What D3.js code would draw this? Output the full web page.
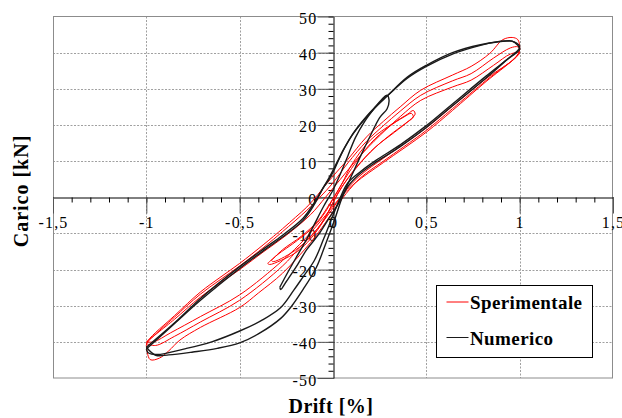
<!DOCTYPE html>
<html><head><meta charset="utf-8">
<script src="https://cdn.jsdelivr.net/npm/d3@7"></script>
<style>html,body{margin:0;padding:0;background:#fff;} svg{display:block;}</style>
</head><body><svg id="c" width="622" height="418"></svg>
<script>
// ---- tick labels / categories ----
const xTicks = [-1.5, -1, -0.5, 0, 0.5, 1, 1.5];
const yTicks = [-50, -40, -30, -20, -10, 0, 10, 20, 30, 40, 50];
const xTitle = "Drift [%]";
const yTitle = "Carico [kN]";
const seriesNames = ["Sperimentale", "Numerico"];

// ---- Sperimentale (experimental) cycles: [drift %, load kN] ----
const expLoopA = [
  [-1.00,-41.0],[-0.99,-39.6],[-0.85,-32.8],[-0.71,-26.2],[-0.60,-22.0],[-0.50,-18.3],[-0.37,-13.0],[-0.27,-8.7],
  [-0.20,-5.5],[-0.14,-2.7],[-0.08,0.8],[-0.03,4.0],[0.02,7.0],[0.08,10.5],[0.18,16.7],[0.27,21.0],[0.36,25.0],
  [0.47,29.6],[0.64,33.8],[0.74,36.2],[0.84,39.8],[0.91,43.6],[0.96,44.2],[0.99,43.6],[1.00,41.5],
  [0.99,39.3],[0.90,35.5],[0.82,32.3],[0.64,24.5],[0.50,18.5],[0.38,14.0],[0.27,10.0],[0.15,5.5],[0.07,1.0],
  [0.02,-2.5],[-0.04,-7.0],[-0.12,-12.5],[-0.27,-21.0],[-0.40,-26.5],[-0.50,-30.5],[-0.71,-36.0],[-0.82,-39.5],
  [-0.88,-42.5],[-0.93,-44.5],[-0.98,-44.9],[-1.00,-41.0]
];
const expLoopB = [
  [-1.00,-40.5],[-0.97,-38.8],[-0.85,-33.2],[-0.71,-26.8],[-0.50,-19.0],[-0.37,-13.8],[-0.27,-9.5],[-0.14,-3.6],
  [-0.07,0.0],[0.00,4.0],[0.08,9.5],[0.18,15.5],[0.27,19.8],[0.36,23.8],[0.47,28.2],[0.64,32.2],[0.74,34.2],
  [0.86,38.5],[0.95,41.3],[0.99,41.6],[1.00,40.8],
  [0.97,38.3],[0.82,32.8],[0.64,25.2],[0.50,19.2],[0.27,10.8],[0.15,6.2],[0.07,2.0],[0.00,-3.0],[-0.08,-8.5],
  [-0.18,-14.0],[-0.27,-19.0],[-0.50,-28.5],[-0.71,-34.5],[-0.85,-38.5],[-0.95,-41.0],[-1.00,-40.5]
];
const expLoopC = [
  [-1.00,-40.0],[-0.85,-33.8],[-0.71,-27.6],[-0.50,-20.0],[-0.37,-15.0],[-0.25,-10.5],[-0.12,-4.8],[-0.04,0.0],
  [0.04,5.0],[0.12,10.0],[0.22,15.5],[0.36,22.3],[0.47,26.8],[0.64,30.5],[0.74,32.4],[0.86,36.5],[0.95,39.6],[1.00,40.0],
  [0.96,37.8],[0.82,32.0],[0.64,24.0],[0.50,18.0],[0.27,9.6],[0.12,4.0],[0.04,0.0],[-0.04,-5.0],[-0.15,-11.5],
  [-0.27,-17.5],[-0.50,-27.0],[-0.71,-33.0],[-0.87,-37.5],[-0.96,-40.0],[-1.00,-40.0]
];
const expSmallA = [
  [-0.35,-18.3],[-0.30,-16.0],[-0.19,-11.9],[-0.10,-8.0],[-0.04,-4.0],[0.00,-0.5],[0.05,4.0],[0.10,9.0],[0.20,15.8],
  [0.32,20.4],[0.40,23.0],[0.43,24.0],[0.44,23.0],
  [0.41,21.3],[0.33,18.0],[0.23,14.0],[0.12,8.0],[0.05,3.0],[0.00,-1.5],[-0.05,-6.5],[-0.12,-11.5],[-0.19,-15.0],
  [-0.28,-17.5],[-0.34,-18.6],[-0.35,-18.3]
];
const expSmallB = [
  [-0.33,-17.5],[-0.27,-14.5],[-0.17,-10.8],[-0.08,-6.5],[-0.02,-2.0],[0.04,3.0],[0.10,8.0],[0.20,14.8],[0.30,19.5],
  [0.38,22.2],[0.42,23.2],[0.43,22.2],
  [0.39,20.5],[0.30,17.0],[0.20,12.5],[0.10,6.5],[0.03,1.5],[-0.03,-4.5],[-0.10,-9.8],[-0.18,-13.8],[-0.26,-16.5],
  [-0.32,-17.8],[-0.33,-17.5]
];

// ---- Numerico (numerical) cycles: [drift %, load kN] ----
const numLoopA = [
  [-1.00,-42.0],[-0.85,-35.0],[-0.71,-28.5],[-0.50,-19.7],[-0.37,-14.7],[-0.27,-11.0],[-0.16,-6.4],[-0.10,-2.0],
  [-0.05,2.8],[-0.02,5.0],[0.01,8.0],[0.05,12.5],[0.10,17.0],[0.16,21.0],[0.22,24.5],[0.29,28.0],[0.40,33.3],
  [0.50,36.5],[0.64,40.0],[0.79,42.2],[0.89,43.0],[0.96,43.2],[0.99,42.0],[1.00,41.0],
  [0.92,37.6],[0.82,33.5],[0.64,25.8],[0.50,19.8],[0.36,14.5],[0.23,10.2],[0.15,7.2],[0.08,4.0],[0.04,0.0],
  [0.00,-5.0],[-0.05,-11.5],[-0.10,-17.5],[-0.16,-22.0],[-0.21,-25.7],[-0.28,-30.5],[-0.38,-34.0],[-0.50,-37.0],
  [-0.65,-40.0],[-0.80,-42.0],[-0.94,-43.5],[-0.99,-43.0],[-1.00,-42.0]
];
const numLoopB = [
  [-1.00,-41.5],[-0.85,-34.8],[-0.71,-28.0],[-0.50,-19.2],[-0.37,-14.2],[-0.27,-10.5],[-0.16,-5.8],[-0.10,-1.5],
  [-0.06,2.0],[-0.02,5.5],[0.02,9.5],[0.06,13.5],[0.11,17.8],[0.17,21.8],[0.23,25.2],[0.30,28.5],[0.40,33.0],
  [0.50,36.2],[0.64,39.6],[0.79,42.0],[0.90,43.2],[0.97,43.0],[1.00,41.5],
  [0.93,38.0],[0.82,33.0],[0.64,25.3],[0.50,19.3],[0.36,14.0],[0.23,9.7],[0.14,6.3],[0.08,3.0],[0.05,0.0],
  [0.01,-6.0],[-0.04,-13.0],[-0.09,-19.5],[-0.16,-25.5],[-0.22,-30.0],[-0.28,-33.5],[-0.40,-37.8],[-0.50,-40.3],
  [-0.62,-41.8],[-0.75,-42.8],[-0.88,-43.6],[-0.95,-43.7],[-1.00,-41.5]
];
const numSmall = [
  [-0.285,-24.9],[-0.25,-21.5],[-0.19,-16.0],[-0.14,-11.5],[-0.10,-7.5],[-0.05,-2.5],[0.00,2.0],[0.04,6.5],
  [0.08,11.5],[0.12,16.5],[0.17,21.0],[0.22,24.5],[0.26,27.0],[0.29,28.2],[0.30,27.0],[0.29,24.5],[0.25,22.0],
  [0.20,17.0],[0.145,11.1],[0.10,6.0],[0.06,1.5],[0.02,-2.5],[-0.03,-6.5],[-0.08,-10.5],[-0.141,-14.5],
  [-0.20,-19.5],[-0.25,-23.3],[-0.28,-25.5],[-0.285,-24.9]
];

const expSeries = [expLoopA, expLoopB, expLoopC, expSmallA, expSmallB];
const numSeries = [numLoopA, numLoopB, numSmall];

// ---- drawing ----
const svg = d3.select("#c");
const L = 53, R = 613, T = 16.5, B = 378;
const x = d3.scaleLinear().domain([-1.5, 1.5]).range([L, R]);
const y = d3.scaleLinear().domain([-50, 50]).range([B, T]);
const fmt = d => String(d).replace(".", ",");
const serif = "'Liberation Serif','Times New Roman',serif";

// gridlines
const grid = svg.append("g").attr("stroke", "#a0a0a0").attr("stroke-width", 1).attr("stroke-dasharray", "2,1.5");
grid.selectAll("line.v").data(xTicks.filter(v => v !== 0 && Math.abs(v) !== 1.5)).enter().append("line")
  .attr("x1", d => Math.round(x(d)) + 0.5).attr("x2", d => Math.round(x(d)) + 0.5).attr("y1", T).attr("y2", B);
grid.selectAll("line.h").data(yTicks.filter(v => v !== 0 && Math.abs(v) !== 50)).enter().append("line")
  .attr("y1", d => Math.round(y(d)) + 0.5).attr("y2", d => Math.round(y(d)) + 0.5).attr("x1", L).attr("x2", R);

// plot border
svg.append("rect").attr("x", L + 0.5).attr("y", T).attr("width", R - L - 1).attr("height", B - T)
  .attr("fill", "none").attr("stroke", "#8c8c8c").attr("stroke-width", 1);

// minor ticks positions
const xMinor = d3.range(-15, 16).map(i => i / 10);
const yMinor = d3.range(-25, 26).map(i => i * 2);
const x0 = Math.round(y(0)) + 0.5, y0 = Math.round(x(0)) + 0.5;

// x axis
const gx = svg.append("g").attr("transform", `translate(0,${x0})`);
gx.call(d3.axisBottom(x).tickValues(xMinor).tickSize(5).tickSizeOuter(0).tickFormat(""));
const gxM = svg.append("g").attr("transform", `translate(0,${x0})`);
gxM.call(d3.axisBottom(x).tickValues(xTicks).tickSize(16).tickSizeOuter(0).tickPadding(3.5).tickFormat(fmt));
gxM.select(".domain").remove();
gxM.selectAll(".tick line").attr("stroke", "#555");
gxM.selectAll("text").attr("font-family", serif).attr("font-size", 16).attr("letter-spacing", "1.2px").attr("fill", "#000");

// y axis
const gy = svg.append("g").attr("transform", `translate(${y0},0)`);
gy.call(d3.axisLeft(y).tickValues(yMinor).tickSize(5).tickSizeOuter(0).tickFormat(""));
const gyM = svg.append("g").attr("transform", `translate(${y0},0)`);
gyM.call(d3.axisLeft(y).tickValues(yTicks).tickSize(16).tickSizeOuter(0).tickPadding(0).tickFormat(fmt));
gyM.select(".domain").remove();
gyM.selectAll(".tick line").attr("stroke", "#555");
gyM.selectAll("text").attr("font-family", serif).attr("font-size", 16).attr("letter-spacing", "1.2px")
  .attr("dy", "0.44em").attr("fill", "#000");

svg.selectAll(".domain").attr("stroke", "#000");

// curves
const line = d3.line().x(d => x(d[0])).y(d => y(d[1])).curve(d3.curveCatmullRom.alpha(0.5));
svg.append("g").selectAll("path").data(expSeries).enter().append("path")
  .attr("d", line).attr("fill", "none").attr("stroke", "#ff0000").attr("stroke-width", 1);
svg.append("g").selectAll("path").data(numSeries).enter().append("path")
  .attr("d", line).attr("fill", "none").attr("stroke", "#1a1a1a").attr("stroke-width", 1.4);

// axis titles
svg.append("text").attr("transform", "translate(28,191) rotate(-90)").attr("text-anchor", "middle")
  .attr("font-family", serif).attr("font-weight", "bold").attr("font-size", 20).attr("letter-spacing", "1px")
  .text(yTitle);
svg.append("text").attr("x", 331).attr("y", 413).attr("text-anchor", "middle")
  .attr("font-family", serif).attr("font-weight", "bold").attr("font-size", 20).attr("letter-spacing", "0.5px")
  .text(xTitle);

// legend
const leg = svg.append("g");
leg.append("rect").attr("x", 436.5).attr("y", 285.5).attr("width", 156).attr("height", 72)
  .attr("fill", "#fff").attr("stroke", "#000").attr("stroke-width", 1);
const legColors = ["#ff0000", "#1a1a1a"];
const legY = [302, 337.5];
seriesNames.forEach((n, i) => {
  leg.append("line").attr("x1", 446.5).attr("x2", 468.5).attr("y1", legY[i]).attr("y2", legY[i])
    .attr("stroke", legColors[i]).attr("stroke-width", 1);
  leg.append("text").attr("x", 470).attr("y", legY[i] + 7).attr("font-family", serif).attr("font-weight", "bold")
    .attr("font-size", 19).attr("letter-spacing", "0.4px").attr("fill", "#000").text(n);
});
</script>
</body></html>
